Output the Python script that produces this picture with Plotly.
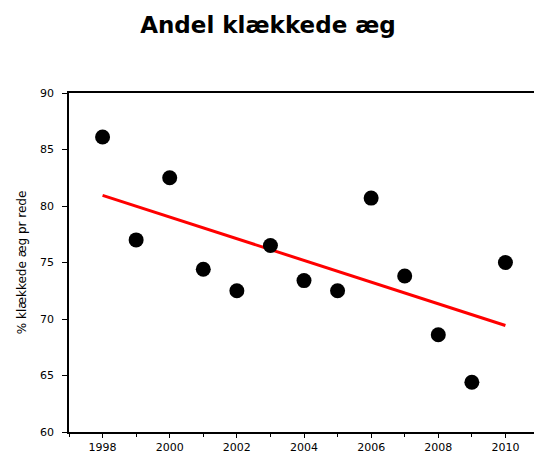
import numpy as np
import plotly.graph_objects as go

years = [1998, 1999, 2000, 2001, 2002, 2003, 2004, 2005, 2006, 2007, 2008, 2009, 2010]
values = [86.1, 77.0, 82.5, 74.4, 72.5, 76.5, 73.4, 72.5, 80.7, 73.8, 68.6, 64.4, 75.0]
title_text = "Andel klækkede æg"
y_title = "% klækkede æg pr rede"

slope, intercept = np.polyfit(years, values, 1)
fit_x = [years[0], years[-1]]
fit_y = [slope * x + intercept for x in fit_x]

W, H = 534, 448  # page body has an 8px margin

fig = go.Figure()
fig.add_trace(go.Scatter(x=fit_x, y=fit_y, mode="lines",
                         line=dict(color="#ff0000", width=3), hoverinfo="skip"))
fig.add_trace(go.Scatter(x=years, y=values, mode="markers",
                         marker=dict(color="black", size=15, line=dict(width=0))))

fig.update_layout(
    width=W, height=H,
    margin=dict(l=61, r=1, t=85, b=24),
    paper_bgcolor="white", plot_bgcolor="white",
    showlegend=False,
    title=dict(text=title_text, x=260/W, xanchor="center", y=1 - 17/H, yanchor="middle",
               font=dict(family="DejaVu Sans", size=23, color="black", weight="bold")),
    font=dict(family="DejaVu Sans", color="black"),
)
fig.update_xaxes(range=[1997, 2011], tick0=1998, dtick=2, ticks="outside", ticklen=4,
                 tickwidth=1.2, tickcolor="black", showgrid=False, zeroline=False,
                 showline=True, linecolor="black", linewidth=1.5, mirror=True,
                 tickfont=dict(size=11, family="DejaVu Sans"),
                 minor=dict(dtick=1, ticks="outside", ticklen=3, tickcolor="black", tickwidth=1.2, showgrid=False))
fig.update_yaxes(range=[60, 90], tick0=60, dtick=5, ticks="outside", ticklen=5,
                 tickwidth=1.2, tickcolor="black", showgrid=False, zeroline=False,
                 showline=True, linecolor="black", linewidth=1.5, mirror=True,
                 tickfont=dict(size=11, family="DejaVu Sans"), ticklabelstandoff=6,
                 title=dict(text=y_title, font=dict(size=12, family="DejaVu Sans"), standoff=11))

fig.write_html("out.html")
